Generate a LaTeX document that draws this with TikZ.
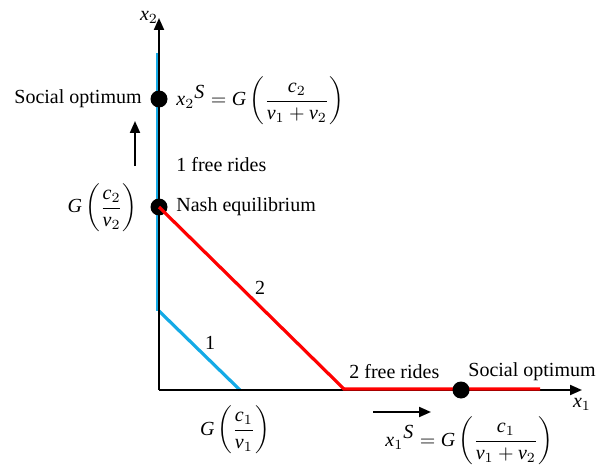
\documentclass[tikz,border=0pt]{standalone}
\usepackage{fontspec}
\setmainfont{Liberation Serif}
\usetikzlibrary{arrows.meta}
\newcommand\It[1]{\textit{#1}}
\begin{document}
\begin{tikzpicture}[x=0.5pt,y=-0.5pt,
  axis/.style={line width=1pt,-{Triangle[length=6pt,width=5pt]}},
  arr/.style={line width=1pt,-{Triangle[length=6pt,width=5pt]}},
  blueline/.style={line width=1.6pt,draw={rgb,255:red,20;green,170;blue,230}},
  redline/.style={line width=1.6pt,draw=red},
  dot/.style={circle,fill=black,inner sep=0pt,minimum size=8.5pt},
  lbl/.style={inner sep=1pt}]
\useasboundingbox (0,0) rectangle (605,465);
\coordinate (O) at (159,390);
\coordinate (ytop) at (159,18);
\coordinate (xend) at (582,390);
\coordinate (bt) at (159,53);
\coordinate (bb) at (159,311);
\coordinate (bx) at (240,390);
\coordinate (rx) at (344,389);
\coordinate (re) at (540,389);
% blue lines
\draw[blueline] (157.5,53) -- (157.5,311);
\draw[blueline] (bb) -- (bx);
% axes
\draw[axis] (O) -- (ytop);
\draw[axis] (O) -- (xend);
% red lines
\node[dot] (nash) at (159,207) {};
\draw[redline] (nash.center) -- (rx) -- (re);
\node[dot] (soy) at (159,99) {};
\node[dot] (sox) at (461,390) {};
% labels
\node[lbl] (x2) at (149,17) {$\It{x}_2$};
\node[lbl] (x1) at (582,404) {$\It{x}_1$};
\node[lbl,anchor=east] (soyl) at (144,99) {Social optimum};
\node[lbl,anchor=west] (x2s) at (174,101) {$\It{x}_2{}^{\It{S}} = \It{G}\left(\displaystyle\frac{\It{c}_2}{\It{v}_1+\It{v}_2}\right)$};
\node[lbl,anchor=west] (fr1) at (174,165) {1 free rides};
\node[lbl,anchor=east] (g2) at (140,208) {$\It{G}\left(\displaystyle\frac{\It{c}_2}{\It{v}_2}\right)$};
\node[lbl,anchor=west] (nashl) at (174,207) {Nash equilibrium};
\node[lbl] (l2) at (260,288) {2};
\node[lbl] (l1) at (210,343) {1};
\node[lbl] (g1) at (235,430) {$\It{G}\left(\displaystyle\frac{\It{c}_1}{\It{v}_1}\right)$};
\node[lbl,anchor=west] (fr2) at (347,372) {2 free rides};
\node[lbl,anchor=west] (soxl) at (466,372) {Social optimum};
\node[lbl,anchor=west] (x1s) at (383,441) {$\It{x}_1{}^{\It{S}} = \It{G}\left(\displaystyle\frac{\It{c}_1}{\It{v}_1+\It{v}_2}\right)$};
% small arrows
\coordinate (ua0) at (135,166);
\coordinate (ua1) at (135,121);
\draw[arr] (ua0) -- (ua1);
\coordinate (ra0) at (373,412);
\coordinate (ra1) at (431,412);
\draw[arr] (ra0) -- (ra1);
\end{tikzpicture}
\end{document}
